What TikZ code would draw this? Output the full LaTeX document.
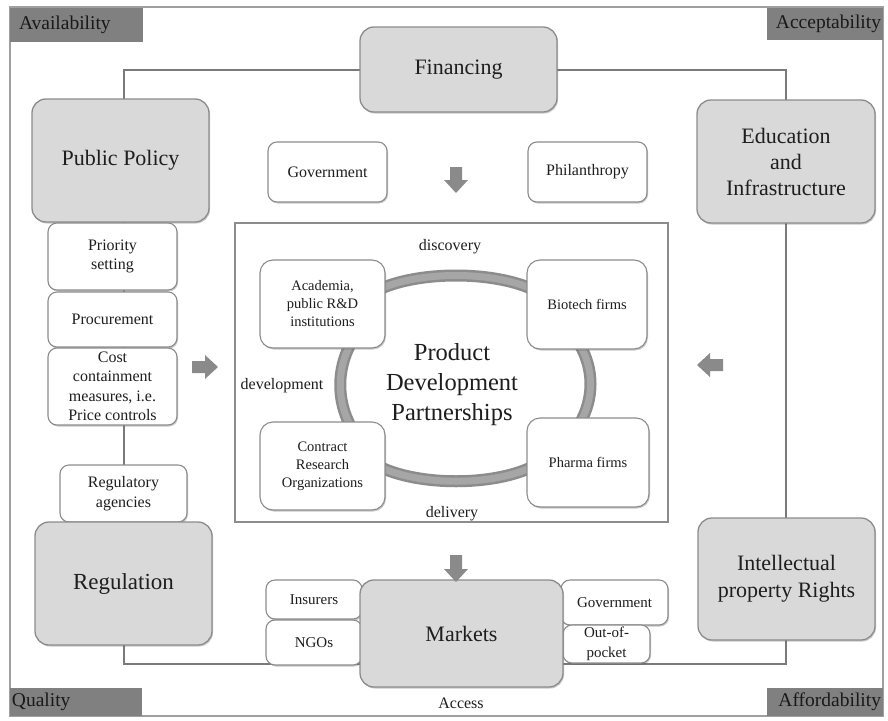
\documentclass[tikz,border=0pt]{standalone}
\usepackage{fontspec}
\setmainfont{Liberation Serif}
\usetikzlibrary{shadows,calc}
\definecolor{txt}{HTML}{1E1E1E}
\definecolor{boxgray}{HTML}{D9D9D9}
\definecolor{bord}{HTML}{8C8C8C}
\definecolor{framecol}{HTML}{A0A0A0}
\definecolor{innercol}{HTML}{7A7A7A}
\definecolor{cornercol}{HTML}{808080}
\definecolor{arrowcol}{HTML}{8A8A8A}
\definecolor{bandedge}{HTML}{8C8C8C}
\definecolor{bandmid}{HTML}{A6A6A6}
\newcommand{\fsz}[2]{\fontsize{#1}{#2}\selectfont}
\begin{document}
\begin{tikzpicture}[x=1pt,y=-1pt,
  shadowed/.style={drop shadow={shadow xshift=1pt,shadow yshift=-1.5pt,opacity=0.3,fill=black!70}},
  bigbox/.style={draw=bord,line width=1.3pt,fill=boxgray,rounded corners=14pt,text=txt,align=center,inner sep=0pt,font=\fsz{22}{26},shadowed},
  smallbox/.style={draw=bord,line width=1.1pt,fill=white,rounded corners=9pt,text=txt,align=center,inner sep=0pt,font=\fsz{16}{19.5},shadowed},
  cbox/.style={draw=bord,line width=1.1pt,fill=white,rounded corners=13pt,text=txt,align=center,inner sep=0pt,font=\fsz{14.5}{18},shadowed},
  cornerlabel/.style={fill=cornercol,text=black!90,inner ysep=0pt,font=\fsz{19.5}{21}},
  lbl/.style={text=txt,font=\fsz{16}{19},inner sep=0pt},
  band/.style={line width=12pt,draw=bandedge},
  bandin/.style={line width=7pt,draw=bandmid},
  blockarrow/.style={fill=arrowcol}
]
\useasboundingbox (0,0) rectangle (888,720);
\fill[white] (0,0) rectangle (888,720);
% outer frame
\coordinate (otl) at (10,7);
\coordinate (obr) at (883,716);
\draw[framecol,line width=2pt] (otl) rectangle (obr);
% corner labels
\node[cornerlabel,minimum width=133,minimum height=34,text width=115,inner xsep=9pt,align=left] (avail) at (76.5,25) {Availability};
\node[cornerlabel,minimum width=116,minimum height=32,text width=112,inner xsep=2pt,align=right] (accept) at (825,24) {Acceptability};
\node[cornerlabel,minimum width=132,minimum height=28,text width=128,inner xsep=2pt,align=left] (qual) at (76,702) {Quality};
\node[cornerlabel,minimum width=116,minimum height=28,text width=112,inner xsep=2pt,align=right] (afford) at (825,702) {Affordability};
% inner frame line
\coordinate (ftl) at (124,70);
\coordinate (fbr) at (786,664);
\draw[innercol,line width=2.5pt] (ftl) rectangle (fbr);
% top
\node[bigbox,minimum width=197,minimum height=85] (fin) at (458.5,69.5) {Financing};
\node[smallbox,minimum width=119,minimum height=60] (gov1) at (327.5,172) {Government};
\node[smallbox,minimum width=119,minimum height=60] (phil) at (587.5,172) {Philanthropy};
% left column
\node[bigbox,minimum width=177,minimum height=123] (pp) at (120.5,160.5) {Public Policy};
\node[smallbox,minimum width=129,minimum height=67] (prio) at (112.5,256.5) {Priority\\setting};
\node[smallbox,minimum width=129,minimum height=55] (proc) at (112.5,319.5) {Procurement};
\node[smallbox,minimum width=129,minimum height=77] (cost) at (112.5,386.5) {Cost\\containment\\measures, i.e.\\Price controls};
\node[smallbox,minimum width=127,minimum height=57] (regag) at (123.5,493.5) {Regulatory\\agencies};
\node[bigbox,minimum width=177,minimum height=123,font=\fsz{23}{27}] (reg) at (123.5,583.5) {Regulation};
% right column
\node[bigbox,minimum width=178,minimum height=123] (edu) at (786,161.5) {Education\\and\\Infrastructure};
\node[bigbox,minimum width=177,minimum height=122,font=\fsz{22}{27}] (ipr) at (786.5,579) {Intellectual\\property Rights};
% bottom
\node[smallbox,minimum width=96,minimum height=39,font=\fsz{15}{19}] (ins) at (314,599.5) {Insurers};
\node[smallbox,minimum width=96,minimum height=45,font=\fsz{15}{19}] (ngo) at (314,642.5) {NGOs};
\node[smallbox,minimum width=107,minimum height=45,font=\fsz{15}{19}] (gov2) at (614.5,602.5) {Government};
\node[smallbox,minimum width=87,minimum height=38,font=\fsz{15}{20}] (oop) at (606.5,644) {Out-of-\\pocket};
\node[bigbox,minimum width=203,minimum height=107] (mkt) at (461.5,633.5) {Markets};
\node[lbl] (access) at (461,703) {Access};
% centre
\node[draw=bord,line width=1.2pt,fill=white,minimum width=433,minimum height=299,inner sep=0pt] (pdpbox) at (451.5,372.5) {};
\node[text=txt,align=center,inner sep=0pt,font=\fsz{24.5}{30}] (pdp) at (452,385) {Product\\Development\\Partnerships};
% arcs
\coordinate (a1) at (380,289); \coordinate (a2) at (532,289);
\coordinate (b1) at (380,467); \coordinate (b2) at (532,467);
\coordinate (l1) at (350,345); \coordinate (l2) at (350,425);
\coordinate (r1) at (580,345); \coordinate (r2) at (580,423);
\foreach \s in {band,bandin}{
  \draw[\s] (a1) .. controls (420,271) and (492,271) .. (a2);
  \draw[\s] (b1) .. controls (420,486) and (492,486) .. (b2);
  \draw[\s] (l1) .. controls (337,370) and (337,400) .. (l2);
  \draw[\s] (r1) .. controls (594,370) and (594,398) .. (r2);
}
\node[cbox,minimum width=125,minimum height=88] (acad) at (322.5,304) {Academia,\\public R\&D\\institutions};
\node[cbox,minimum width=120,minimum height=89] (bio) at (587,304.5) {Biotech firms};
\node[cbox,minimum width=125,minimum height=88] (cro) at (322.5,466) {Contract\\Research\\Organizations};
\node[cbox,minimum width=122,minimum height=89] (pharma) at (588,462.5) {Pharma firms};
\node[lbl] (disc) at (450,247) {discovery};
\node[lbl] (deliv) at (452,514) {delivery};
\node[lbl] (devel) at (282,386) {development};
% block arrows
\fill[blockarrow] (450,167) -- (462,167) -- (462,180) -- (468,180) -- (456,193) -- (444,180) -- (450,180) -- cycle;
\fill[blockarrow] (450,555) -- (462,555) -- (462,569) -- (468,569) -- (456,582) -- (444,569) -- (450,569) -- cycle;
\fill[blockarrow] (192,361) -- (205,361) -- (205,355) -- (218,367) -- (205,379) -- (205,373) -- (192,373) -- cycle;
\fill[blockarrow] (723,359) -- (710,359) -- (710,353) -- (697,365) -- (710,377) -- (710,371) -- (723,371) -- cycle;
\end{tikzpicture}
\end{document}
